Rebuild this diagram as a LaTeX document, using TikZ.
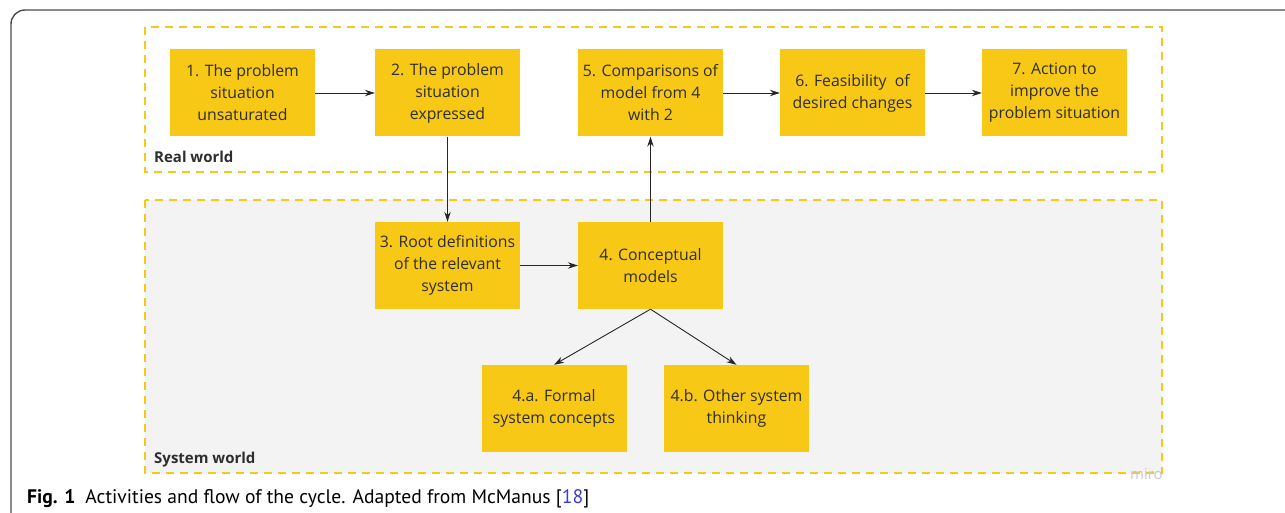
\documentclass[tikz,border=0pt]{standalone}
\usepackage{fontspec}
\setmainfont{Open Sans}
\newfontfamily\captionfont{PT Sans}
\usetikzlibrary{arrows.meta}

\begin{document}
\begin{tikzpicture}
	[x=1pt,y=-1pt,line cap=butt,>={Stealth[length=10pt,width=6.5pt]},
	%Styles
	activity/.style={rectangle,fill=boxyellow,text=boxtext,minimum width=145pt,minimum height=87pt,
		inner sep=0pt,align=center,font=\fontsize{15.8}{22}\selectfont},
	world/.style={draw=boxyellow,line width=1.6pt,dash pattern=on 8pt off 6pt},
	world label/.style={anchor=base west,inner sep=0pt,text=boxtext,font=\bfseries\fontsize{15}{18}\selectfont},
	flow/.style={->,line width=0.9pt,black!85}
	]
	
	%Colors
	\definecolor{boxyellow}{HTML}{F7C815}
	\definecolor{boxtext}{HTML}{2E2E2E}
	\definecolor{worldgray}{HTML}{F3F3F3}
	\definecolor{citeblue}{HTML}{3A3AE0}
	
	\clip (0,0) rectangle (1285,513);
	\useasboundingbox (0,0) rectangle (1285,513);
	
	%The frame
	\draw[line width=1.4pt,black!70,rounded corners=14pt] (11,10) rectangle (1310,530);
	
	%The two worlds
	\draw[world] (145,27) rectangle (1162,172);
	\draw[world,fill=worldgray] (145,200) rectangle (1162,473);
	\node[world label] (real) at (154,163) {Real world};
	\node[world label] (system) at (154,463) {System world};
	\node[anchor=base east,inner sep=0pt,text=black!22,font=\fontsize{15}{16}\selectfont] (miro) at (1163,479) {miro};
	
	%The activities
	\node[activity] (a1) at (242.5,93) {1. The problem\\situation\\unsaturated};
	\node[activity] (a2) at (447.5,93) {2. The problem\\situation\\expressed};
	\node[activity] (a5) at (650.5,93) {5. Comparisons of\\model from 4\\with 2};
	\node[activity] (a6) at (852.5,93) {6. Feasibility\ \ of\\desired changes};
	\node[activity] (a7) at (1054.5,93) {7. Action to\\improve the\\problem situation};
	\node[activity] (a3) at (447.5,265.5) {3. Root definitions\\of the relevant\\system};
	\node[activity] (a4) at (650.5,265.5) {4. Conceptual\\models};
	\node[activity] (a4a) at (554,408.5) {4.a. Formal\\system concepts};
	\node[activity] (a4b) at (736.5,408.5) {4.b. Other system\\thinking};
	
	%The flow
	\draw[flow] (a1) -- (a2);
	\draw[flow] (a2) -- (a3);
	\draw[flow] (a3) -- (a4);
	\draw[flow] (a4) -- (a5);
	\draw[flow] (a5) -- (a6);
	\draw[flow] (a6) -- (a7);
	\draw[flow] (a4.south) -- (a4a.north);
	\draw[flow] (a4.south) -- (a4b.north);
	
	%Caption
	\node[anchor=base west,inner sep=0pt,font=\captionfont\fontsize{19.6}{22}\selectfont] (caption) at (27,503)
		{\textbf{Fig. 1}\hspace{10pt}Activities and flow of the cycle. Adapted from McManus [\textcolor{citeblue}{18}]};
\end{tikzpicture}
\end{document}
